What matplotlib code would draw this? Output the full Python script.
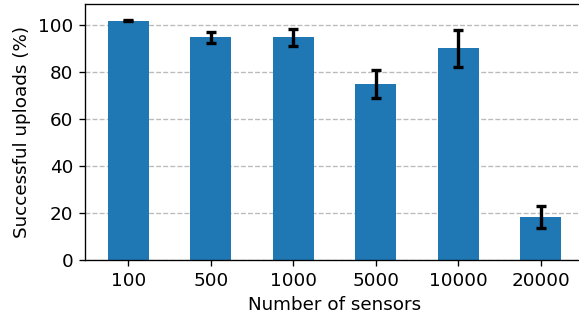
import matplotlib
matplotlib.use("Agg")
import matplotlib.pyplot as plt
import numpy as np

categories = ["100", "500", "1000", "5000", "10000", "20000"]
values = [101.8, 94.8, 94.8, 75.0, 90.0, 18.3]
errors = [0.3, 2.3, 3.6, 6.0, 8.0, 4.6]

DPI = 120
fig = plt.figure(figsize=(579 / DPI, 322 / DPI), dpi=DPI)
ax = fig.add_axes([85 / 579, 62 / 322, 499 / 579, 256 / 322])
x = np.arange(len(categories))
ax.bar(x, values, width=0.5, color="#1f77b4", yerr=errors,
       error_kw=dict(ecolor="black", elinewidth=2, capsize=3, capthick=2), zorder=2)
ax.set_xticks(x)
ax.set_xticklabels(categories, fontsize=11)
ax.tick_params(axis="y", labelsize=11)
ax.set_ylim(0, 108.9)
ax.set_xlim(-0.525, 5.525)
ax.set_xlabel("Number of sensors", fontsize=11)
ax.set_ylabel("Successful uploads (%)", fontsize=11)
ax.yaxis.grid(True, linestyle="--", color="#bbbbbb", zorder=0)
ax.set_axisbelow(True)
fig.savefig("out.png", dpi=DPI)
